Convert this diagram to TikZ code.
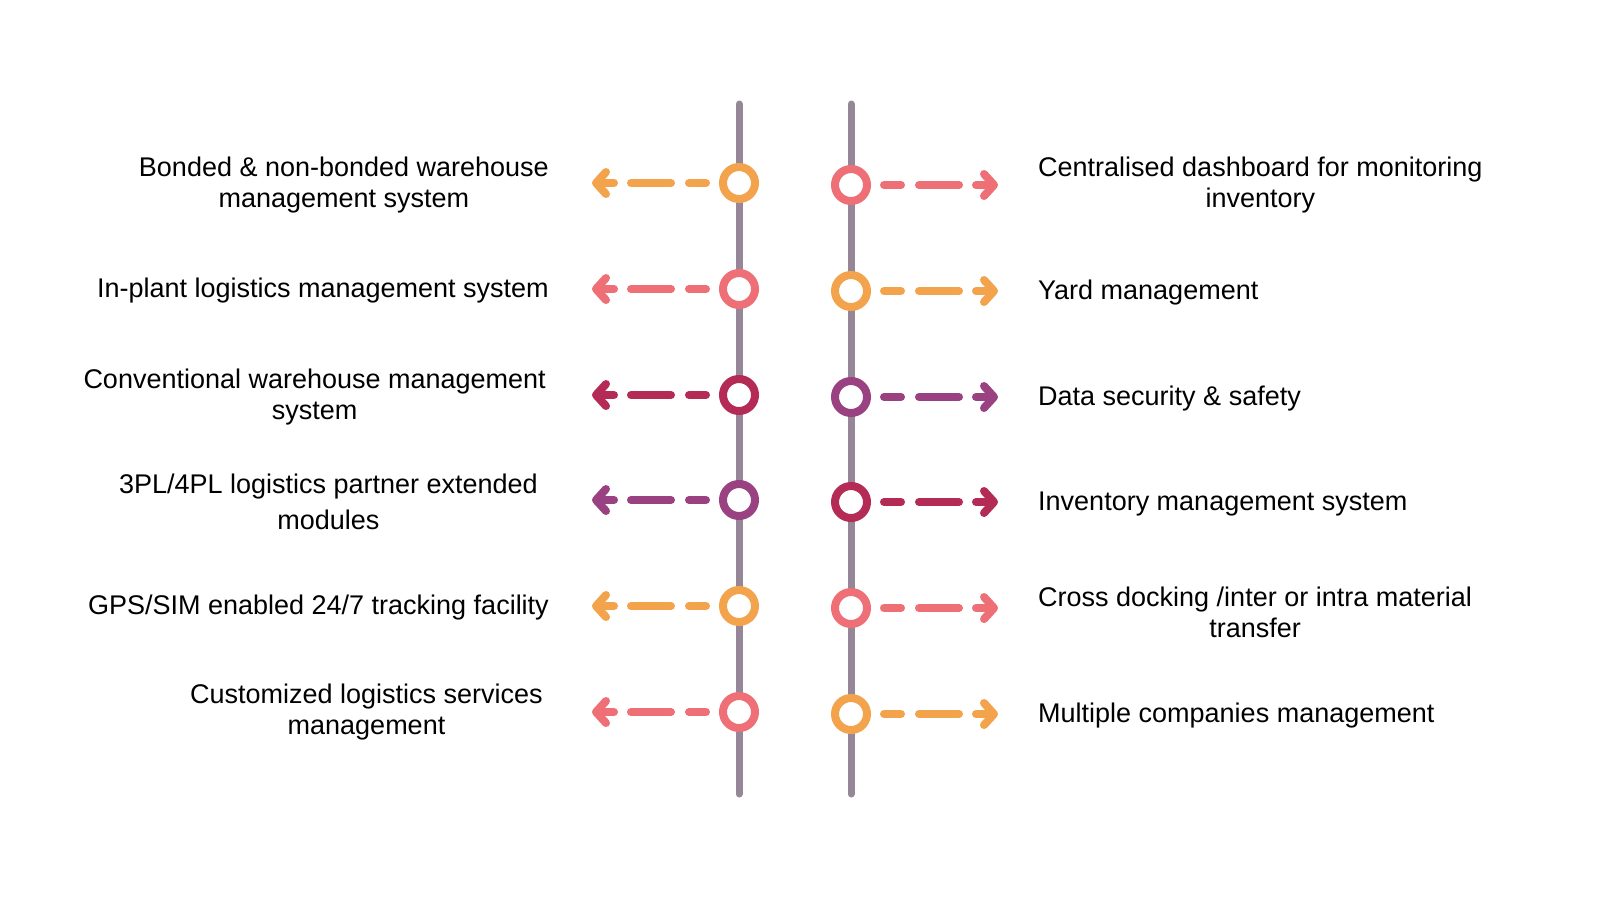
\documentclass[tikz,border=0pt]{standalone}
\usepackage{fontspec}
\setmainfont{Liberation Sans}
\usetikzlibrary{arrows.meta}
\definecolor{corange}{HTML}{F2A34C}
\definecolor{cpink}{HTML}{EE6F75}
\definecolor{ccrimson}{HTML}{B42B55}
\definecolor{cpurple}{HTML}{9A4181}
\definecolor{cgrey}{HTML}{958798}
\begin{document}
\begin{tikzpicture}[x=1pt,y=-1pt,
  ring/.style={circle, draw=#1, line width=8pt, fill=white, minimum size=32pt, inner sep=0pt},
  axisline/.style={draw=cgrey, line width=7pt, line cap=round},
  flow/.style={draw=#1, line width=8pt, line cap=round, shorten <=13pt,
    dash pattern=on 17pt off 18pt on 40pt off 17pt on 300pt,
    -{Straight Barb[length=10pt, width=22pt, line cap=round, line join=round]}},
  lbl/.style={align=center, font=\fontsize{27}{31}\selectfont, inner sep=0pt},
  ltext/.style={lbl, anchor=east},
  rtext/.style={lbl, anchor=west}]
\useasboundingbox[fill=white] (0,0) rectangle (1600,898);
% axes
\coordinate (Ltop) at (739,104);
\coordinate (Lbot) at (739,794);
\coordinate (Rtop) at (851,104);
\coordinate (Rbot) at (851,794);
\draw[axisline] (Ltop) -- (Lbot);
\draw[axisline] (Rtop) -- (Rbot);
% left side
\foreach \i/\y/\c in {1/183/corange, 2/289/cpink, 3/395/ccrimson, 4/500/cpurple, 5/606/corange, 6/712/cpink}{
  \coordinate (Lt\i) at (592,\y);
  \node[ring=\c] (L\i) at (739,\y) {};
  \draw[flow=\c] (L\i.west) -- (Lt\i);
}
% right side
\foreach \i/\y/\c in {1/185/cpink, 2/291/corange, 3/397/cpurple, 4/502/ccrimson, 5/608/cpink, 6/714/corange}{
  \coordinate (Rt\i) at (998,\y);
  \node[ring=\c] (R\i) at (851,\y) {};
  \draw[flow=\c] (R\i.east) -- (Rt\i);
}
% left labels
\node[ltext] (T1) at (549,185) {Bonded \& non-bonded warehouse\\management system};
\node[ltext] (T2) at (549,291) {In-plant logistics management system};
\node[ltext] (T3) at (546,397) {Conventional warehouse management\\system};
\node[ltext] (T4) at (538,502) {3PL/4PL logistics partner extended\\[5pt]modules};
\node[ltext] (T5) at (549,608) {GPS/SIM enabled 24/7 tracking facility};
\node[ltext] (T6) at (543,712) {Customized logistics services\\management};
% right labels
\node[rtext] (U1) at (1038,185) {Centralised dashboard for monitoring\\inventory};
\node[rtext] (U2) at (1038,293) {Yard management};
\node[rtext] (U3) at (1038,399) {Data security \& safety};
\node[rtext] (U4) at (1038,504) {Inventory management system};
\node[rtext] (U5) at (1038,612) {Cross docking /inter or intra material\\transfer};
\node[rtext] (U6) at (1038,716) {Multiple companies management};
\end{tikzpicture}
\end{document}
